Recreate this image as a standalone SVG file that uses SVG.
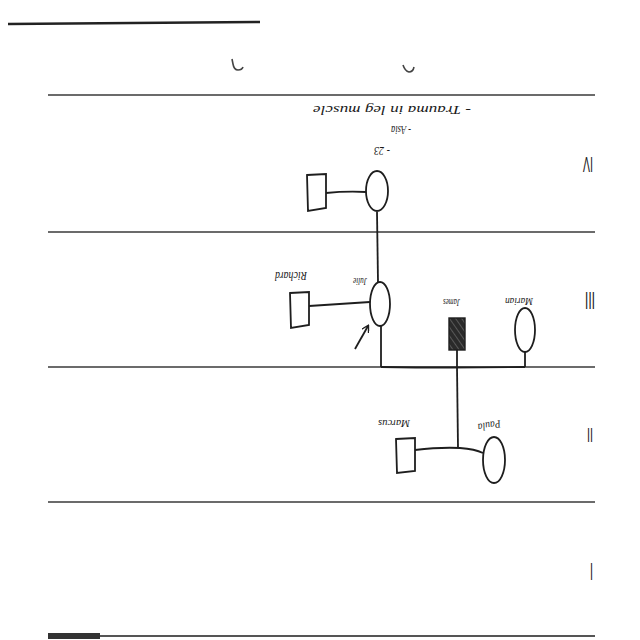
<svg xmlns="http://www.w3.org/2000/svg" width="640" height="640" viewBox="0 0 640 640">
<style>
.sep{stroke:#3a3a3a;stroke-width:1.6;fill:none}
.ln{stroke:#1e1e1e;stroke-width:1.8;fill:none}
.sym{stroke:#1e1e1e;stroke-width:1.8;fill:#fff}
.hw{font-family:"Liberation Serif",serif;font-style:italic;fill:#1a1a1a}
.rn{font-family:"Liberation Sans",sans-serif;fill:#222}
</style>
<defs>
<pattern id="hatch" patternUnits="userSpaceOnUse" width="5" height="5" patternTransform="rotate(-35)">
<rect width="5" height="5" fill="#2a2a2a"/>
<line x1="0" y1="0" x2="0" y2="5" stroke="#777" stroke-width="1.2"/>
</pattern>
<marker id="arr" markerWidth="8" markerHeight="8" refX="6" refY="4" orient="auto" markerUnits="userSpaceOnUse">
<path d="M0,0 L7,4 L0,8" fill="none" stroke="#1e1e1e" stroke-width="1.4"/>
</marker>
</defs>
<rect width="640" height="640" fill="#fff"/>
<g id="page">
<path d="M8,24 L260,22" stroke="#222" stroke-width="2.4"/>
<path d="M232,59 L233,64 q1,6 5,6 q4,0 5,-3" stroke="#444" stroke-width="1.6" fill="none"/>
<path d="M403,65 q2,6 6,7 q4,0 5,-5" stroke="#444" stroke-width="1.6" fill="none"/>
<line class="sep" x1="48" y1="95" x2="595" y2="95"/>
<line class="sep" x1="48" y1="232" x2="595" y2="232"/>
<line class="sep" x1="48" y1="367" x2="595" y2="367"/>
<line class="sep" x1="48" y1="502" x2="595" y2="502"/>
<line x1="48" y1="636" x2="595" y2="636" stroke="#555" stroke-width="2"/>
<rect x="48" y="633" width="52" height="6" fill="#333"/>
</g>
<g id="gen-labels">
<text class="rn" x="593" y="157" font-size="22" textLength="10" lengthAdjust="spacingAndGlyphs" transform="rotate(180 593 157)">IV</text>
<text class="rn" x="595" y="292" font-size="24" textLength="10" lengthAdjust="spacingAndGlyphs" transform="rotate(180 595 292)">III</text>
<text class="rn" x="593" y="428" font-size="21" textLength="6" lengthAdjust="spacingAndGlyphs" transform="rotate(180 593 428)">II</text>
<text class="rn" x="593" y="563" font-size="23" textLength="3" lengthAdjust="spacingAndGlyphs" transform="rotate(180 593 563)">I</text>
</g>
<g id="connectors">
<path class="ln" d="M326,193 Q346,191 366,192"/>
<path class="ln" d="M377,212 L378,282"/>
<path class="ln" d="M309,306 Q340,304 370,302"/>
<path class="ln" d="M381,326 L381,367"/>
<path class="ln" d="M381,367 Q450,368 525,367"/>
<path class="ln" d="M457,350 L457,367"/>
<path class="ln" d="M525,352 L525,367"/>
<path class="ln" d="M457,367 L458,448"/>
<path class="ln" d="M415,450 Q440,447 460,448 Q475,449 483,453"/>
<line class="ln" x1="355" y1="349" x2="368" y2="326" stroke-width="1.4" marker-end="url(#arr)"/>
</g>
<g id="gen4-spouse"><path class="sym" d="M307,175 L326,174 L326,208 L308,211 Z"/></g>
<g id="gen4-female"><ellipse class="sym" cx="377" cy="191" rx="11" ry="20"/></g>
<g id="gen4-notes">
<text class="hw" x="390" y="147" font-size="13" textLength="16" lengthAdjust="spacingAndGlyphs" transform="rotate(180 390 147)">- 23</text>
<text class="hw" x="411" y="126" font-size="13" textLength="20" lengthAdjust="spacingAndGlyphs" transform="rotate(180 411 126)">- Asia</text>
<text class="hw" x="471" y="106" font-size="13" textLength="158" lengthAdjust="spacingAndGlyphs" transform="rotate(180 471 106)">- Trauma in leg muscle</text>
</g>
<g id="richard">
<path class="sym" d="M290,293 L309,292 L309,325 L291,328 Z"/>
<text class="hw" x="307" y="272" font-size="12" textLength="32" lengthAdjust="spacingAndGlyphs" transform="rotate(180 307 272)">Richard</text>
</g>
<g id="julie">
<ellipse class="sym" cx="380" cy="304" rx="10" ry="22"/>
<text class="hw" x="367" y="278" font-size="11" textLength="14" lengthAdjust="spacingAndGlyphs" transform="rotate(180 367 278)">Julie</text>
</g>
<g id="james">
<rect x="449" y="318" width="16" height="32" fill="url(#hatch)" stroke="#1e1e1e" stroke-width="1.4"/>
<text class="hw" x="460" y="299" font-size="10" textLength="17" lengthAdjust="spacingAndGlyphs" transform="rotate(180 460 299)">James</text>
</g>
<g id="marian">
<ellipse class="sym" cx="525" cy="330" rx="10" ry="22"/>
<text class="hw" x="533" y="298" font-size="10" textLength="28" lengthAdjust="spacingAndGlyphs" transform="rotate(180 533 298)">Marian</text>
</g>
<g id="marcus">
<path class="sym" d="M396,439 L415,438 L415,471 L397,473 Z"/>
<text class="hw" x="410" y="420" font-size="11" textLength="32" lengthAdjust="spacingAndGlyphs" transform="rotate(180 410 420)">Marcus</text>
</g>
<g id="paula">
<ellipse class="sym" cx="494" cy="460" rx="11" ry="23"/>
<text class="hw" x="500" y="420" font-size="11" textLength="23" lengthAdjust="spacingAndGlyphs" transform="rotate(170 500 420)">Paula</text>
</g>
</svg>
